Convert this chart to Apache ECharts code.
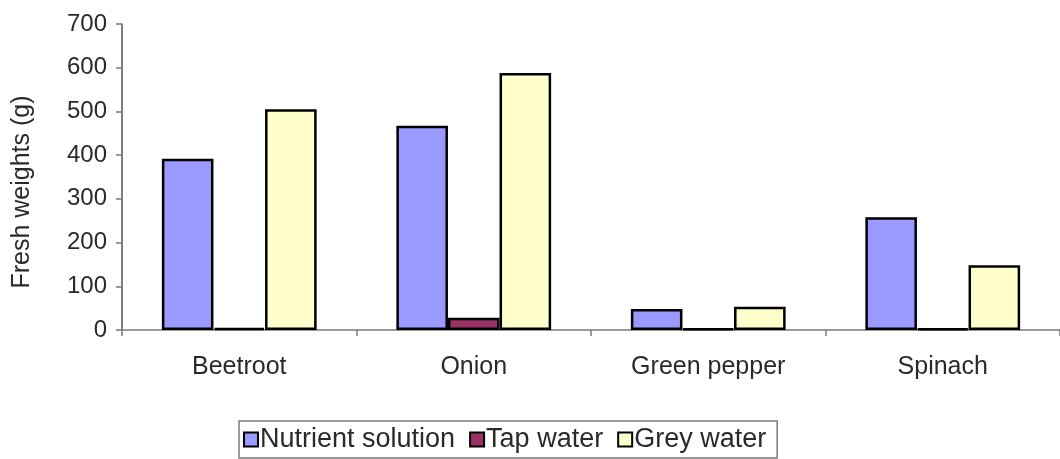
<!DOCTYPE html>
<html>
<head>
<meta charset="utf-8">
<script src="https://cdn.jsdelivr.net/npm/echarts@6/dist/echarts.min.js"></script>
<style>
  html, body { margin: 0; padding: 0; background: #ffffff; }
  #chart { width: 1060px; height: 459px; }
</style>
</head>
<body>
<div id="chart"></div>
<script>
// Fresh weights (g) of each crop under three irrigation treatments
const crops = ['Beetroot', 'Onion', 'Green pepper', 'Spinach'];
const nutrientSolution = [392, 467, 48, 258];
const tapWater = [5, 28, 3, 3];
const greyWater = [505, 588, 53, 148];
const yTicks = { min: 0, max: 700, interval: 100 };

const FONT = '"Liberation Sans", Arial, sans-serif';
const TEXT = '#2a2a2a';
const AXIS = '#7a7a7a';

function barSeries(name, data, color) {
  return {
    name: name,
    type: 'bar',
    data: data,
    barGap: '0%',
    barCategoryGap: '34%',
    itemStyle: { color: color, borderColor: '#000000', borderWidth: 2.5 }
  };
}

const chart = echarts.init(document.getElementById('chart'), null, { renderer: 'canvas' });
chart.setOption({
  animation: false,
  backgroundColor: '#ffffff',
  grid: { left: 122, top: 24, width: 947, height: 306, containLabel: false },
  legend: {
    left: 239,
    top: 421,
    padding: [5, 11, 5, 4],
    itemGap: 14,
    itemWidth: 14,
    itemHeight: 14,
    icon: 'rect',
    borderColor: AXIS,
    borderWidth: 1.5,
    textStyle: { fontFamily: FONT, fontSize: 27, color: TEXT, padding: [0, 0, 0, -3] },
    data: ['Nutrient solution', 'Tap water', 'Grey water']
  },
  xAxis: {
    type: 'category',
    data: crops,
    axisLine: { lineStyle: { color: AXIS, width: 1.5 } },
    axisTick: { show: true, length: 6, lineStyle: { color: AXIS, width: 1.5 } },
    axisLabel: { fontFamily: FONT, fontSize: 25, color: TEXT, margin: 25 }
  },
  yAxis: {
    type: 'value',
    min: yTicks.min,
    max: yTicks.max,
    interval: yTicks.interval,
    name: 'Fresh weights (g)',
    nameLocation: 'middle',
    nameGap: 87,
    nameRotate: 90,
    nameTextStyle: { fontFamily: FONT, fontSize: 25, color: TEXT, padding: [0, 30, 0, 0] },
    axisLine: { show: true, lineStyle: { color: '#555555', width: 1.5 } },
    axisTick: { show: true, length: 6, lineStyle: { color: AXIS, width: 1.5 } },
    splitLine: { show: false },
    axisLabel: { fontFamily: FONT, fontSize: 24, color: TEXT, margin: 15 }
  },
  series: [
    barSeries('Nutrient solution', nutrientSolution, '#9999FF'),
    barSeries('Tap water', tapWater, '#993366'),
    barSeries('Grey water', greyWater, '#FFFFCC')
  ]
});
</script>
</body>
</html>
